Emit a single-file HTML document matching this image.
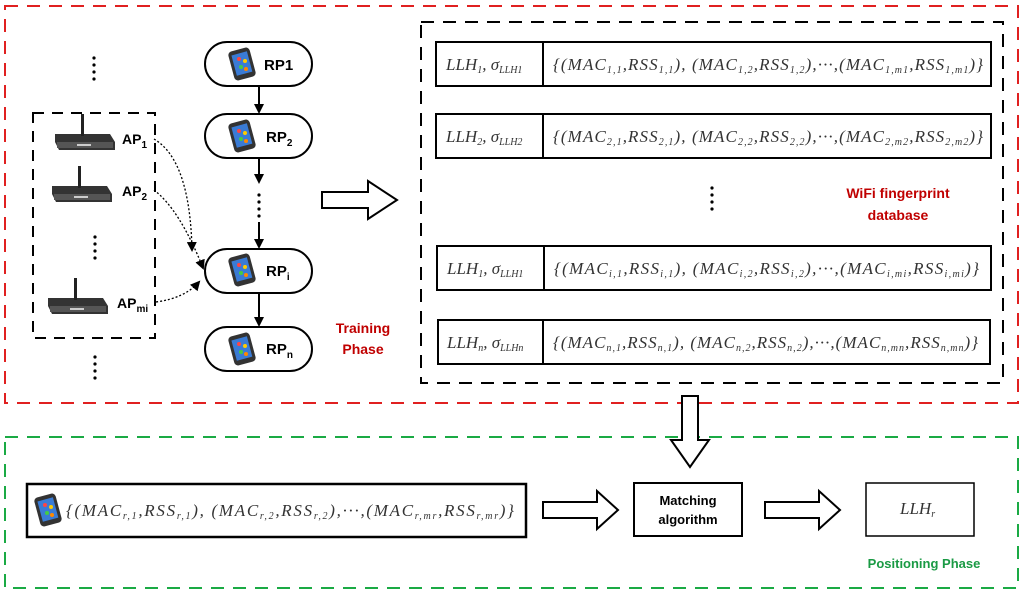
<!DOCTYPE html>
<html><head><meta charset="utf-8"><style>
html,body{margin:0;padding:0;background:#fff;}
svg{display:block;}
.m{font-family:"Liberation Serif",serif;font-style:italic;font-size:17px;fill:#333;}
.b{font-family:"Liberation Sans",sans-serif;font-weight:bold;}
</style></head><body>
<svg width="1024" height="596" viewBox="0 0 1024 596" xmlns="http://www.w3.org/2000/svg">
<defs>
<marker id="ah" markerWidth="10" markerHeight="10" refX="8" refY="5" orient="auto" markerUnits="userSpaceOnUse"><path d="M0,0 L10,5 L0,10 z" fill="#000"/></marker>
<g id="phone"><rect x="-11" y="-15" width="22" height="30" rx="4" fill="#333" transform="rotate(-15)"/><rect x="-8" y="-11" width="16" height="21" fill="#3a7bd5" transform="rotate(-15)"/><circle cx="-3" cy="-5" r="2" fill="#f44"/><circle cx="3" cy="-3" r="2" fill="#fc0"/><circle cx="-1" cy="3" r="2" fill="#4c4"/><circle cx="4" cy="5" r="2" fill="#f80"/></g>
<g id="router"><path d="M0,10 L55,10 L60,18 L60,26 L4,26 L0,18 z" fill="#333"/><rect x="2" y="18" width="56" height="6" fill="#555"/><rect x="26" y="-10" width="3" height="22" fill="#222"/><rect x="22" y="20" width="14" height="2" fill="#ccc"/></g>
</defs>
<rect x="5" y="6" width="1013" height="397" fill="none" stroke="#e02020" stroke-width="2" stroke-dasharray="13,9"/>
<rect x="5" y="437" width="1013" height="151" fill="none" stroke="#1aaa44" stroke-width="2" stroke-dasharray="13,9"/>
<rect x="33" y="113" width="122" height="225" fill="none" stroke="#000" stroke-width="2" stroke-dasharray="11,8"/>
<g fill="#000"><circle cx="94" cy="58" r="1.6"/><circle cx="94" cy="65" r="1.6"/><circle cx="94" cy="72" r="1.6"/><circle cx="94" cy="79" r="1.6"/>
<circle cx="95" cy="237" r="1.6"/><circle cx="95" cy="244" r="1.6"/><circle cx="95" cy="251" r="1.6"/><circle cx="95" cy="258" r="1.6"/>
<circle cx="95" cy="357" r="1.6"/><circle cx="95" cy="364" r="1.6"/><circle cx="95" cy="371" r="1.6"/><circle cx="95" cy="378" r="1.6"/>
<circle cx="259" cy="195" r="1.6"/><circle cx="259" cy="202" r="1.6"/><circle cx="259" cy="209" r="1.6"/><circle cx="259" cy="216" r="1.6"/>
<circle cx="712" cy="188" r="1.6"/><circle cx="712" cy="195" r="1.6"/><circle cx="712" cy="202" r="1.6"/><circle cx="712" cy="209" r="1.6"/></g>
<use href="#router" x="55" y="124"/><use href="#router" x="52" y="176"/><use href="#router" x="48" y="288"/>
<g class="b" font-size="14" fill="#000">
<text x="122" y="144">AP<tspan font-size="10" dy="4">1</tspan></text>
<text x="122" y="196">AP<tspan font-size="10" dy="4">2</tspan></text>
<text x="117" y="308">AP<tspan font-size="10" dy="4">mi</tspan></text>
</g>
<g fill="none" stroke="#000" stroke-width="1.3" stroke-dasharray="2,2" marker-end="url(#ah)">
<path d="M154,139 Q190,160 192,250"/>
<path d="M154,190 Q180,210 203,268"/>
<path d="M156,302 Q185,298 199,282"/>
</g>
<g fill="#fff" stroke="#000" stroke-width="2">
<rect x="205" y="42" width="107" height="44" rx="22"/>
<rect x="205" y="114" width="107" height="44" rx="22"/>
<rect x="205" y="249" width="107" height="44" rx="22"/>
<rect x="205" y="327" width="107" height="44" rx="22"/>
</g>
<use href="#phone" x="242" y="64"/><use href="#phone" x="242" y="136"/><use href="#phone" x="242" y="270"/><use href="#phone" x="242" y="349"/>
<g class="b" font-size="15" fill="#000">
<text x="264" y="70">RP1</text>
<text x="266" y="142">RP<tspan font-size="10" dy="4">2</tspan></text>
<text x="266" y="276">RP<tspan font-size="10" dy="4">i</tspan></text>
<text x="266" y="354">RP<tspan font-size="10" dy="4">n</tspan></text>
</g>
<g stroke="#000" stroke-width="2" marker-end="url(#ah)">
<line x1="259" y1="86" x2="259" y2="112"/>
<line x1="259" y1="158" x2="259" y2="182"/>
<line x1="259" y1="222" x2="259" y2="247"/>
<line x1="259" y1="293" x2="259" y2="325"/>
</g>
<path d="M322,192 L368,192 L368,181 L397,200 L368,219 L368,208 L322,208 z" fill="#fff" stroke="#000" stroke-width="2"/>
<text class="b" font-size="14" fill="#c00000" x="363" y="333" text-anchor="middle">Training</text>
<text class="b" font-size="14" fill="#c00000" x="363" y="354" text-anchor="middle">Phase</text>
<rect x="421" y="22" width="582" height="361" fill="none" stroke="#000" stroke-width="2" stroke-dasharray="13,9"/>
<g fill="#fff" stroke="#000" stroke-width="2">
<rect x="436" y="42" width="555" height="44"/><line x1="543" y1="42" x2="543" y2="86"/>
<rect x="436" y="114" width="555" height="44"/><line x1="543" y1="114" x2="543" y2="158"/>
<rect x="437" y="246" width="554" height="44"/><line x1="544" y1="246" x2="544" y2="290"/>
<rect x="438" y="320" width="552" height="44"/><line x1="543" y1="320" x2="543" y2="364"/>
</g>
<g class="m">
<text x="446" y="70">LLH<tspan font-size="10" dy="3">1</tspan><tspan dy="-3">, σ</tspan><tspan font-size="10" dy="3">LLH1</tspan></text>
<text x="553" y="70" textLength="430" lengthAdjust="spacing">{(MAC<tspan font-size="10" dy="3">1,1</tspan><tspan dy="-3">,RSS</tspan><tspan font-size="10" dy="3">1,1</tspan><tspan dy="-3">), (MAC</tspan><tspan font-size="10" dy="3">1,2</tspan><tspan dy="-3">,RSS</tspan><tspan font-size="10" dy="3">1,2</tspan><tspan dy="-3">),···,(MAC</tspan><tspan font-size="10" dy="3">1,m1</tspan><tspan dy="-3">,RSS</tspan><tspan font-size="10" dy="3">1,m1</tspan><tspan dy="-3">)}</tspan></text>
<text x="446" y="142">LLH<tspan font-size="10" dy="3">2</tspan><tspan dy="-3">, σ</tspan><tspan font-size="10" dy="3">LLH2</tspan></text>
<text x="553" y="142" textLength="430" lengthAdjust="spacing">{(MAC<tspan font-size="10" dy="3">2,1</tspan><tspan dy="-3">,RSS</tspan><tspan font-size="10" dy="3">2,1</tspan><tspan dy="-3">), (MAC</tspan><tspan font-size="10" dy="3">2,2</tspan><tspan dy="-3">,RSS</tspan><tspan font-size="10" dy="3">2,2</tspan><tspan dy="-3">),···,(MAC</tspan><tspan font-size="10" dy="3">2,m2</tspan><tspan dy="-3">,RSS</tspan><tspan font-size="10" dy="3">2,m2</tspan><tspan dy="-3">)}</tspan></text>
<text x="447" y="274">LLH<tspan font-size="10" dy="3">1</tspan><tspan dy="-3">, σ</tspan><tspan font-size="10" dy="3">LLH1</tspan></text>
<text x="554" y="274" textLength="425" lengthAdjust="spacing">{(MAC<tspan font-size="10" dy="3">i,1</tspan><tspan dy="-3">,RSS</tspan><tspan font-size="10" dy="3">i,1</tspan><tspan dy="-3">), (MAC</tspan><tspan font-size="10" dy="3">i,2</tspan><tspan dy="-3">,RSS</tspan><tspan font-size="10" dy="3">i,2</tspan><tspan dy="-3">),···,(MAC</tspan><tspan font-size="10" dy="3">i,mi</tspan><tspan dy="-3">,RSS</tspan><tspan font-size="10" dy="3">i,mi</tspan><tspan dy="-3">)}</tspan></text>
<text x="447" y="348">LLH<tspan font-size="10" dy="3">n</tspan><tspan dy="-3">, σ</tspan><tspan font-size="10" dy="3">LLHn</tspan></text>
<text x="553" y="348" textLength="425" lengthAdjust="spacing">{(MAC<tspan font-size="10" dy="3">n,1</tspan><tspan dy="-3">,RSS</tspan><tspan font-size="10" dy="3">n,1</tspan><tspan dy="-3">), (MAC</tspan><tspan font-size="10" dy="3">n,2</tspan><tspan dy="-3">,RSS</tspan><tspan font-size="10" dy="3">n,2</tspan><tspan dy="-3">),···,(MAC</tspan><tspan font-size="10" dy="3">n,mn</tspan><tspan dy="-3">,RSS</tspan><tspan font-size="10" dy="3">n,mn</tspan><tspan dy="-3">)}</tspan></text>
</g>
<text class="b" font-size="14" fill="#c00000" x="898" y="198" text-anchor="middle">WiFi fingerprint</text>
<text class="b" font-size="14" fill="#c00000" x="898" y="220" text-anchor="middle">database</text>
<path d="M682,396 L698,396 L698,440 L709,440 L690,467 L671,440 L682,440 z" fill="#fff" stroke="#000" stroke-width="2"/>
<rect x="27" y="484" width="499" height="53" fill="#fff" stroke="#000" stroke-width="2.5"/>
<use href="#phone" x="48" y="510"/>
<text class="m" x="66" y="516" textLength="448" lengthAdjust="spacing">{(MAC<tspan font-size="10" dy="3">r,1</tspan><tspan dy="-3">,RSS</tspan><tspan font-size="10" dy="3">r,1</tspan><tspan dy="-3">), (MAC</tspan><tspan font-size="10" dy="3">r,2</tspan><tspan dy="-3">,RSS</tspan><tspan font-size="10" dy="3">r,2</tspan><tspan dy="-3">),···,(MAC</tspan><tspan font-size="10" dy="3">r,mr</tspan><tspan dy="-3">,RSS</tspan><tspan font-size="10" dy="3">r,mr</tspan><tspan dy="-3">)}</tspan></text>
<path d="M543,502 L597,502 L597,491 L618,510 L597,529 L597,518 L543,518 z" fill="#fff" stroke="#000" stroke-width="2"/>
<rect x="634" y="483" width="108" height="53" fill="#fff" stroke="#000" stroke-width="2"/>
<text class="b" font-size="13" x="688" y="505" text-anchor="middle">Matching</text>
<text class="b" font-size="13" x="688" y="524" text-anchor="middle">algorithm</text>
<path d="M765,502 L819,502 L819,491 L840,510 L819,529 L819,518 L765,518 z" fill="#fff" stroke="#000" stroke-width="2"/>
<rect x="866" y="483" width="108" height="53" fill="#fff" stroke="#000" stroke-width="1.5"/>
<text class="m" x="900" y="514" font-size="15">LLH<tspan font-size="10" dy="3">r</tspan></text>
<text class="b" font-size="13" fill="#1a9a44" x="924" y="568" text-anchor="middle">Positioning Phase</text>
</svg>
</body></html>
